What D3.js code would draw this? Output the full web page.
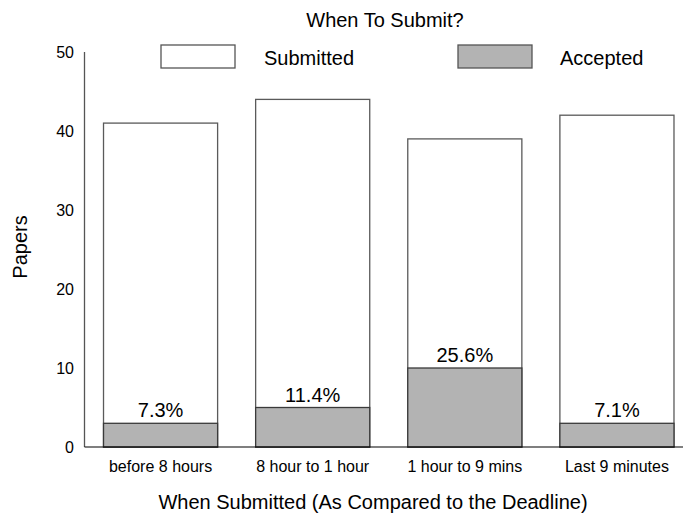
<!DOCTYPE html>
<html>
<head>
<meta charset="utf-8">
<script src="https://cdn.jsdelivr.net/npm/d3@7"></script>
<style>
  body { margin: 0; background: #fff; }
  svg { font-family: "Liberation Sans", Arial, sans-serif; }
</style>
</head>
<body>
<svg id="chart" width="683" height="517"></svg>
<script>
"use strict";

// === Data ===
let categories = ["before 8 hours", "8 hour to 1 hour", "1 hour to 9 mins", "Last 9 minutes"];
let submitted = [41, 44, 39, 42];
let accepted = [3, 5, 10, 3];
let yTicks = [0, 10, 20, 30, 40, 50];

let svg = d3.select("#chart");

// === Scales ===
let x = d3.scaleBand()
  .domain(categories)
  .range([84.5, 693])
  .paddingInner(0.25)
  .paddingOuter(0.125);

let y = d3.scaleLinear()
  .domain([0, 50])
  .range([447, 52]);

// === Bars ===
let rows = categories.map((c, i) => ({ c: c, s: submitted[i], a: accepted[i] }));

svg.selectAll(".sub")
  .data(rows)
  .enter().append("rect")
  .attr("x", d => x(d.c))
  .attr("y", d => y(d.s))
  .attr("width", x.bandwidth())
  .attr("height", d => y(0) - y(d.s))
  .attr("fill", "#fff")
  .attr("stroke", "#5a5a5a")
  .attr("stroke-width", 1.3);

svg.selectAll(".acc")
  .data(rows)
  .enter().append("rect")
  .attr("x", d => x(d.c))
  .attr("y", d => y(d.a))
  .attr("width", x.bandwidth())
  .attr("height", d => y(0) - y(d.a))
  .attr("fill", "#b3b3b3")
  .attr("stroke", "#3a3a3a")
  .attr("stroke-width", 1.3);

// percentage labels
svg.selectAll(".pct")
  .data(rows)
  .enter().append("text")
  .attr("x", d => x(d.c) + x.bandwidth() / 2)
  .attr("y", d => y(d.a) - 6)
  .attr("text-anchor", "middle")
  .attr("font-size", 20)
  .text(d => (d.a / d.s * 100).toFixed(1) + "%");

// === Axes (lines only, no tick marks) ===
svg.append("line")
  .attr("x1", 84.5).attr("x2", 84.5)
  .attr("y1", y(0)).attr("y2", y(50))
  .attr("stroke", "#555").attr("stroke-width", 1.3);

svg.append("line")
  .attr("x1", 84.5).attr("x2", 683)
  .attr("y1", y(0)).attr("y2", y(0))
  .attr("stroke", "#000").attr("stroke-width", 1.2);

svg.selectAll(".ytick")
  .data(yTicks)
  .enter().append("text")
  .attr("x", 74)
  .attr("y", d => y(d) + 6)
  .attr("text-anchor", "end")
  .attr("font-size", 16)
  .text(d => d);

svg.selectAll(".xtick")
  .data(categories)
  .enter().append("text")
  .attr("x", d => x(d) + x.bandwidth() / 2)
  .attr("y", 472)
  .attr("text-anchor", "middle")
  .attr("font-size", 16)
  .text(d => d);

// axis titles
svg.append("text")
  .attr("x", 373).attr("y", 509)
  .attr("text-anchor", "middle")
  .attr("font-size", 20)
  .text("When Submitted (As Compared to the Deadline)");

svg.append("text")
  .attr("transform", "translate(27,247) rotate(-90)")
  .attr("text-anchor", "middle")
  .attr("font-size", 20)
  .text("Papers");

// title
svg.append("text")
  .attr("x", 385).attr("y", 27)
  .attr("text-anchor", "middle")
  .attr("font-size", 20)
  .text("When To Submit?");

// === Legend ===
let legend = [
  { name: "Submitted", fill: "#fff", bx: 161, tx: 264 },
  { name: "Accepted", fill: "#b3b3b3", bx: 458, tx: 560 }
];
legend.forEach(l => {
  svg.append("rect")
    .attr("x", l.bx).attr("y", 45)
    .attr("width", 74).attr("height", 23)
    .attr("fill", l.fill)
    .attr("stroke", "#555")
    .attr("stroke-width", 1.3);
  svg.append("text")
    .attr("x", l.tx).attr("y", 65)
    .attr("font-size", 20)
    .text(l.name);
});
</script>
</body>
</html>
